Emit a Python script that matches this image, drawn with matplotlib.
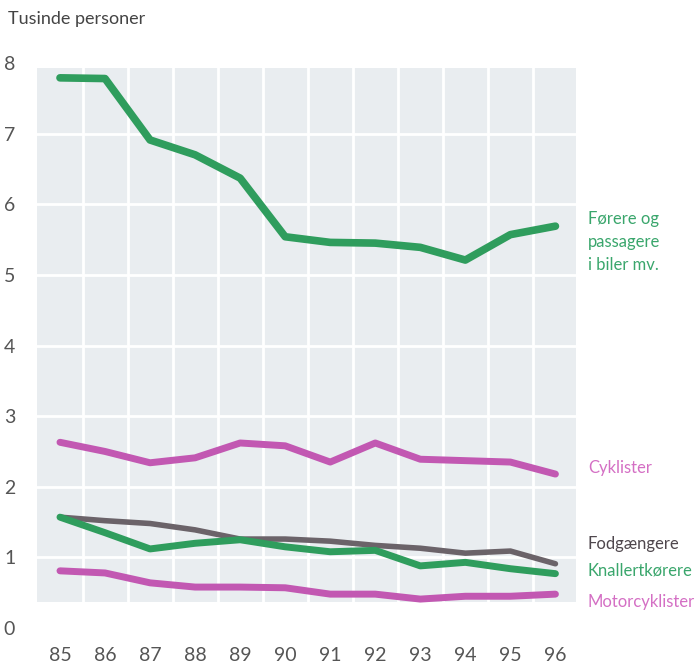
import matplotlib.pyplot as plt

years = [85, 86, 87, 88, 89, 90, 91, 92, 93, 94, 95, 96]
bilister = [7.79, 7.78, 6.91, 6.70, 6.37, 5.54, 5.46, 5.45, 5.39, 5.21, 5.57, 5.69]
cyklister = [2.63, 2.50, 2.34, 2.41, 2.62, 2.58, 2.35, 2.62, 2.39, 2.37, 2.35, 2.18]
fodgaengere = [1.57, 1.52, 1.48, 1.39, 1.26, 1.26, 1.23, 1.17, 1.13, 1.06, 1.09, 0.91]
knallert = [1.57, 1.35, 1.12, 1.20, 1.25, 1.15, 1.08, 1.10, 0.88, 0.93, 0.84, 0.77]
motorcykel = [0.81, 0.78, 0.64, 0.58, 0.58, 0.57, 0.48, 0.48, 0.41, 0.45, 0.45, 0.48]

green = "#2f9d5d"
green_txt = "#3aa66c"
pink = "#c258b2"
pink_txt = "#d46fc4"
grey = "#6b6369"
grey_txt = "#4f474d"
tick_col = "#555555"

plt.rcParams["font.family"] = ["Lato", "DejaVu Sans"]

fig = plt.figure(figsize=(6.99, 6.66), dpi=100)
ax = fig.add_axes([0.0536, 0.057, 0.770, 0.859])
ax.set_xlim(84.5, 96.45)
ax.set_ylim(0, 8.1)

# grey panel behind the lines (does not reach down to 0)
ax.axhspan(0.37, 7.93, color="#e9edf0", zorder=0, lw=0)
for x in [85.5 + i for i in range(11)]:
    ax.plot([x, x], [0.37, 7.93], color="white", lw=2, zorder=1)
for y in range(1, 8):
    ax.plot([84.5, 96.45], [y, y], color="white", lw=2, zorder=1)

ax.plot(years, bilister, color=green, lw=5.5, solid_capstyle="round", solid_joinstyle="round", zorder=3)
ax.plot(years, cyklister, color=pink, lw=5, solid_capstyle="round", solid_joinstyle="round", zorder=3)
ax.plot(years, fodgaengere, color=grey, lw=4, solid_capstyle="round", solid_joinstyle="round", zorder=3)
ax.plot(years, knallert, color=green, lw=5, solid_capstyle="round", solid_joinstyle="round", zorder=4)
ax.plot(years, motorcykel, color=pink, lw=5, solid_capstyle="round", solid_joinstyle="round", zorder=3)

ax.set_xticks(years)
ax.set_xticklabels([str(y) for y in years])
ax.set_yticks(range(0, 9))
ax.tick_params(length=0, labelsize=14, colors=tick_col)
ax.tick_params(axis="y", pad=16)
ax.tick_params(axis="x", pad=14)
for s in ax.spines.values():
    s.set_visible(False)

lx = 96.72
fs = 12
ax.text(lx, 5.47, "Førere og\npassagere\ni biler mv.", color=green_txt, fontsize=fs,
        va="center", ha="left", linespacing=1.55, clip_on=False)
ax.text(lx, 2.27, "Cyklister", color=pink_txt, fontsize=fs, va="center", ha="left", clip_on=False)
ax.text(lx, 1.19, "Fodgængere", color=grey_txt, fontsize=fs, va="center", ha="left", clip_on=False)
ax.text(lx, 0.82, "Knallertkørere", color=green_txt, fontsize=fs, va="center", ha="left", clip_on=False)
ax.text(lx, 0.37, "Motorcyklister", color=pink_txt, fontsize=fs, va="center", ha="left", clip_on=False)

fig.text(0.011, 0.972, "Tusinde personer", color="#444444", fontsize=13, va="center", ha="left")

fig.savefig("out.png", dpi=100)
